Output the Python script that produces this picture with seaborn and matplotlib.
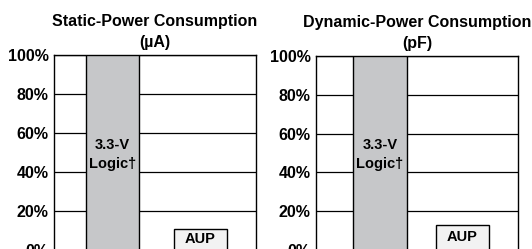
import matplotlib
matplotlib.use("Agg")
import matplotlib.pyplot as plt
import seaborn as sns
import pandas as pd

# values (percent of 3.3-V logic)
categories = ["3.3-V\nLogic\u2020", "AUP"]
static_power = [100, 11]
dynamic_power = [100, 13]
titles = ["Static-Power Consumption\n(\u00b5A)", "Dynamic-Power Consumption\n(pF)"]
yticks = [0, 20, 40, 60, 80, 100]
ytick_labels = ["0%", "20%", "40%", "60%", "80%", "100%"]

sns.set_style("white")
plt.rcParams["font.family"] = ["Liberation Sans", "DejaVu Sans"]
plt.rcParams["text.color"] = "black"
plt.rcParams["ytick.color"] = "black"
plt.rcParams["axes.titlecolor"] = "black"

fig = plt.figure(figsize=(5.32, 2.49), dpi=100)
ax1 = fig.add_axes([54 / 532, -1 / 249, 202 / 532, 195 / 249])
ax2 = fig.add_axes([316 / 532, -1 / 249, 202 / 532, 194 / 249])

bar_colors = ["#c6c7c9", "#f2f2f2"]
setups = [
    (ax1, static_power, titles[0], (-0.665, 1.63), 0.6),
    (ax2, dynamic_power, titles[1], (-0.776, 1.673), 0.65),
]

for ax, vals, title, xlim, width in setups:
    df = pd.DataFrame({"cat": categories, "val": vals})
    sns.barplot(data=df, x="cat", y="val", hue="cat", palette=bar_colors,
                edgecolor="black", linewidth=1.0, width=width, legend=False,
                ax=ax, zorder=3)
    ax.set_xlim(*xlim)
    ax.set_ylim(0, 100)
    ax.set_yticks(yticks)
    ax.set_yticklabels(ytick_labels, fontweight="bold", fontsize=11.5)
    ax.set_xticks([])
    ax.set_xlabel("")
    ax.set_ylabel("")
    ax.tick_params(axis="y", length=0, pad=4)
    ax.yaxis.grid(True, color="black", linewidth=0.9, zorder=0)
    ax.set_axisbelow(True)
    for s in ax.spines.values():
        s.set_visible(True)
        s.set_color("black")
        s.set_linewidth(1.0)
    ax.set_title(title, fontweight="bold", fontsize=11.5, linespacing=1.45, pad=6)
    ax.text(0, 49, categories[0], ha="center", va="center", fontweight="bold",
            fontsize=10.5, linespacing=1.45, zorder=5)
    ax.text(1, vals[1] / 2, categories[1], ha="center", va="center",
            fontweight="bold", fontsize=10.5, zorder=5)

fig.savefig("out.png", dpi=100)
